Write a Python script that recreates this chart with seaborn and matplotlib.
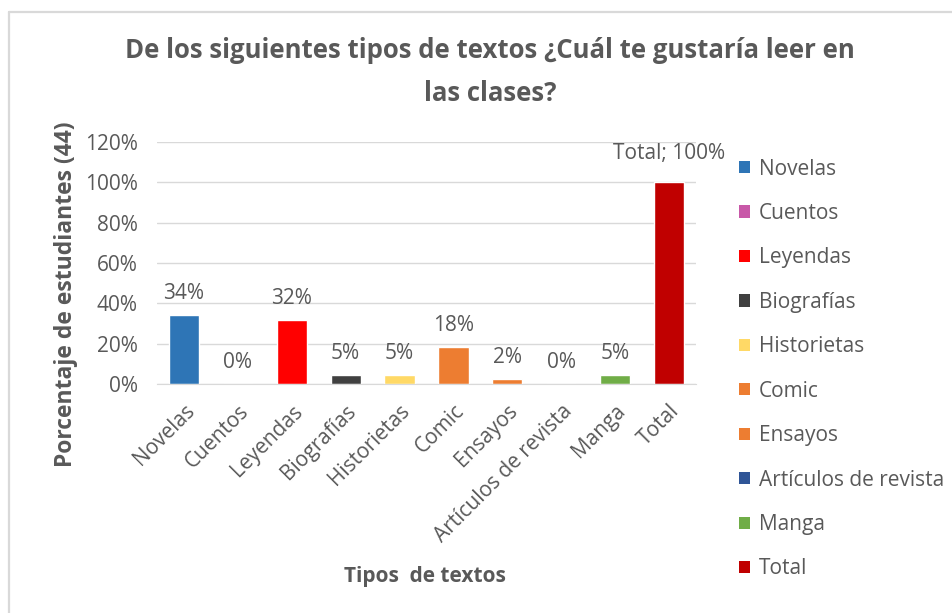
import numpy as np
import pandas as pd
import matplotlib
matplotlib.use("Agg")
import matplotlib.pyplot as plt
import seaborn as sns
from matplotlib.patches import Patch
from matplotlib.lines import Line2D

categorias = ["Novelas", "Cuentos", "Leyendas", "Biografías", "Historietas",
              "Comic", "Ensayos", "Artículos de revista", "Manga", "Total"]
estudiantes = [15, 0, 14, 2, 2, 8, 1, 0, 2, 44]
total = 44
colores = ["#2E75B6", "#C858A8", "#FF0000", "#404040", "#FFD966",
           "#ED7D31", "#ED7D31", "#2F5597", "#70AD47", "#C00000"]

porcentaje = [100 * e / total for e in estudiantes]
df = pd.DataFrame({"categoria": categorias, "pct": porcentaje})

sns.set_style("white")
plt.rcParams["font.family"] = ["Open Sans", "DejaVu Sans"]
gris = "#595959"
fs = 15

fig = plt.figure(figsize=(9.52, 6.13), dpi=100)
ax = fig.add_axes([0.165, 0.3736, 0.566, 0.395])

sns.barplot(data=df, x="categoria", y="pct", hue="categoria", palette=colores,
            legend=False, width=0.56, ax=ax, saturation=1)

ax.set_ylim(0, 120)
ax.set_yticks(np.arange(0, 121, 20))
ax.set_yticklabels([f"{v}%" for v in range(0, 121, 20)], color=gris, fontsize=fs)
ax.yaxis.grid(True, color="#D9D9D9", linewidth=1)
ax.set_axisbelow(True)
for s in ["top", "right", "left"]:
    ax.spines[s].set_visible(False)
ax.spines["bottom"].set_color("#D9D9D9")
ax.tick_params(axis="y", length=0, pad=14)
ax.tick_params(axis="x", length=0, pad=12)

ax.set_xticks(range(len(categorias)))
ax.set_xticklabels(categorias, rotation=45, ha="right", rotation_mode="anchor",
                   color=gris, fontsize=fs)

for i, (cat, p) in enumerate(zip(categorias, porcentaje)):
    txt = f"{p:.0f}%" if cat != "Total" else "Total; 100%"
    off = 8 if cat != "Total" else 13
    ax.annotate(txt, (i, p), xytext=(0, off), textcoords="offset points",
                ha="center", va="bottom", color=gris, fontsize=fs)

ax.set_xlabel("Tipos  de textos", fontsize=15, fontweight="bold", color=gris)
ax.xaxis.label.set_va("center")
ax.xaxis.set_label_coords(0.497, -0.797)
ax.set_ylabel("Porcentaje de estudiantes (44)", fontsize=16.5, fontweight="bold", color=gris)
ax.yaxis.label.set_va("center")
ax.yaxis.set_label_coords(-0.169, 0.37)

fig.suptitle("De los siguientes tipos de textos ¿Cuál te gustaría leer en\nlas clases?",
             x=0.515, y=0.939, fontsize=18.5, fontweight="bold", color=gris, linespacing=1.75)

handles = [Patch(facecolor=c, edgecolor="none") for c in colores]
fig.legend(handles, categorias, loc="upper left", bbox_to_anchor=(0.757, 0.772),
           frameon=False, fontsize=fs, labelcolor=gris, handlelength=0.52,
           handleheight=0.52, handletextpad=0.4, labelspacing=1.125)

# borde gris del grafico (solo arriba e izquierda, como en el recorte)
fig.add_artist(Line2D([9 / 952, 1], [1 - 12 / 613, 1 - 12 / 613], transform=fig.transFigure,
                      color="#D9D9D9", linewidth=1.6))
fig.add_artist(Line2D([9 / 952, 9 / 952], [0, 1 - 12 / 613], transform=fig.transFigure,
                      color="#D9D9D9", linewidth=1.6))

fig.savefig("out.png", dpi=100)
